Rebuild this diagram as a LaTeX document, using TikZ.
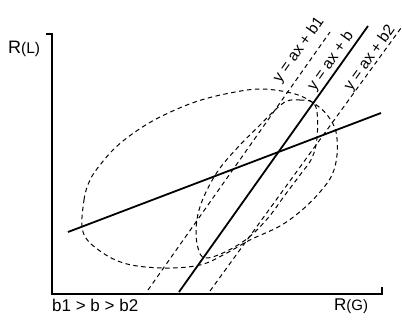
\documentclass[tikz,border=0pt]{standalone}
\usepackage{fontspec}
\setmainfont{Liberation Sans}
\begin{document}
\begin{tikzpicture}[x=1pt,y=-1pt,
  solidline/.style={line width=1.8pt},
  axisline/.style={line width=1.6pt},
  dashline/.style={line width=1pt, dash pattern=on 4.5pt off 3.5pt},
  lbl/.style={inner sep=0pt, font=\fontsize{15.5}{15.5}\selectfont, rotate=54.6},
  axlbl/.style={inner sep=0pt, anchor=base west, font=\fontsize{17}{17}\selectfont}]
\useasboundingbox (0,0) rectangle (402,322);
% axes
\coordinate (ytick) at (46,34);
\coordinate (ytop) at (52,34);
\coordinate (origin) at (52,294);
\coordinate (xend) at (382,294);
\coordinate (xtick) at (382,287);
\draw[axisline] (ytick) -- (ytop) -- (origin) -- (xend) -- (xtick);
% axis labels
\node[axlbl, font=\fontsize{18}{18}\selectfont] (rl) at (8,53) {R{\fontsize{15.5}{15.5}\selectfont(L)}};
\node[axlbl] (rg) at (334,310) {R{\fontsize{15}{15}\selectfont(G)}};
\node[axlbl] (cond) at (52,311) {b1 > b > b2};
% solid lines
\coordinate (sA) at (179,292);
\coordinate (sB) at (368,26);
\coordinate (hA) at (68,232);
\coordinate (hB) at (381,113);
\draw[solidline] (sA) -- (sB);
\draw[solidline] (hA) -- (hB);
% dashed parallel lines
\coordinate (b1A) at (148,290);
\coordinate (b1B) at (330,32);
\coordinate (b2A) at (210,291);
\coordinate (b2B) at (401,28);
\draw[dashline] (b1A) -- (b1B);
\draw[dashline] (b2A) -- (b2B);
% big loop
\draw[dashline] plot[smooth cycle, tension=0.6] coordinates {
  (83,232) (84,200) (90,180) (100,165) (115,148) (135,132) (160,117) (195,102)
  (230,93) (262,89) (295,94) (315,104) (328,116) (336,132) (337,155) (332,175)
  (320,192) (302,210) (280,226) (250,240) (225,254) (200,265) (165,268) (127,264) (100,251)};
% middle loop
\draw[dashline] plot[smooth cycle, tension=0.6] coordinates {
  (287,101) (300,100) (312,102) (317,112) (317,138) (312,158) (300,175) (285,195)
  (268,218) (248,238) (225,252) (205,258) (198,248) (196,230) (199,210) (207,190)
  (220,168) (240,145) (260,125) (275,110)};
% labels
\node[lbl] (lb1) at (299,50) {y = ax + b1};
\node[lbl] (lb) at (331,61) {y = ax + b};
\node[lbl] (lb2) at (370,58) {y = ax + b2};
\end{tikzpicture}
\end{document}
